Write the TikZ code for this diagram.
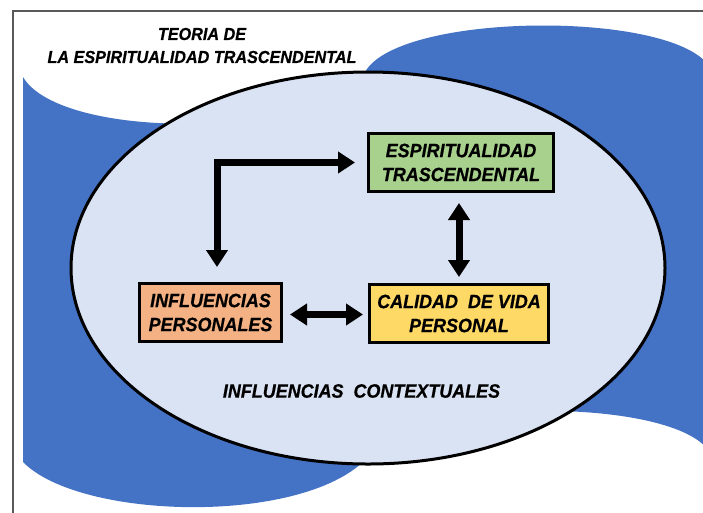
\documentclass[tikz,border=0pt]{standalone}
\usepackage{fontspec}
\setmainfont{Liberation Sans}
\newfontfamily\labelfont[FakeStretch=0.93,FakeBold=0.6]{Liberation Sans}
\usetikzlibrary{arrows.meta,calc}
\definecolor{waveblue}{HTML}{4472C4}
\definecolor{ellfill}{HTML}{DAE3F3}
\definecolor{boxgreen}{HTML}{A9D18E}
\definecolor{boxorange}{HTML}{F4B183}
\definecolor{boxyellow}{HTML}{FFD966}
\definecolor{framegray}{HTML}{595959}
\begin{document}
\begin{tikzpicture}[x=1pt,y=-1pt,
  concept/.style={draw=black, line width=3pt, minimum height=58pt, inner sep=0pt, align=center,
    font=\labelfont\fontsize{19.3}{24}\selectfont\bfseries\itshape},
  plainlabel/.style={inner sep=0pt, align=center, font=\labelfont\fontsize{19.3}{24}\selectfont\bfseries\itshape},
  titlelabel/.style={inner sep=0pt, align=center, font=\labelfont\fontsize{17.4}{23}\selectfont\bfseries\itshape},
  bigarrow/.style={line width=7pt, >={Triangle[width=21pt,length=17pt]}, <->}]
\useasboundingbox (0,0) rectangle (703,512);
\clip (0,0) rectangle (703,512);
\fill[white] (0,0) rectangle (703,512);
% blue wave
\fill[waveblue] (23,77) .. controls (60,140) and (310,140) .. (365,72)
  .. controls (400,10) and (690,10) .. (712,72) -- (712,457)
  .. controls (690,395) and (400,395) .. (365,460)
  .. controls (300,525) and (80,520) .. (23,462) -- cycle;
% frame
\draw[framegray, line width=1.5pt] (13,11) rectangle (730,540);
% ellipse
\draw[line width=3pt, fill=ellfill] (368,268) ellipse [x radius=297, y radius=196];
% title
\node[titlelabel] (title) at (202,45.5) {TEORIA DE\\LA ESPIRITUALIDAD TRASCENDENTAL};
% boxes
\node[concept, fill=boxgreen, minimum width=185pt] (esp) at (461,162.5) {ESPIRITUALIDAD\\TRASCENDENTAL};
\node[concept, fill=boxorange, minimum width=142pt] (inf) at (210.5,312.5) {INFLUENCIAS\\PERSONALES};
\node[concept, fill=boxyellow, minimum width=179pt] (cal) at (459,313.5) {CALIDAD\ \ DE VIDA\\PERSONAL};
\node[plainlabel] (ctx) at (361.5,391) {INFLUENCIAS\ \ CONTEXTUALES};
% arrows
\draw[bigarrow] ([xshift=6.5pt,yshift=15pt]inf.north) |- ([xshift=-12pt]esp.west);
\draw[bigarrow] ([xshift=-2pt,yshift=-10pt]esp.south) -- ([xshift=-2pt,yshift=6pt]esp.south |- cal.north);
\draw[bigarrow] ([xshift=7pt,yshift=-2pt]inf.east) -- ([xshift=-5pt,yshift=-2pt]inf.east -| cal.west);
\end{tikzpicture}
\end{document}
